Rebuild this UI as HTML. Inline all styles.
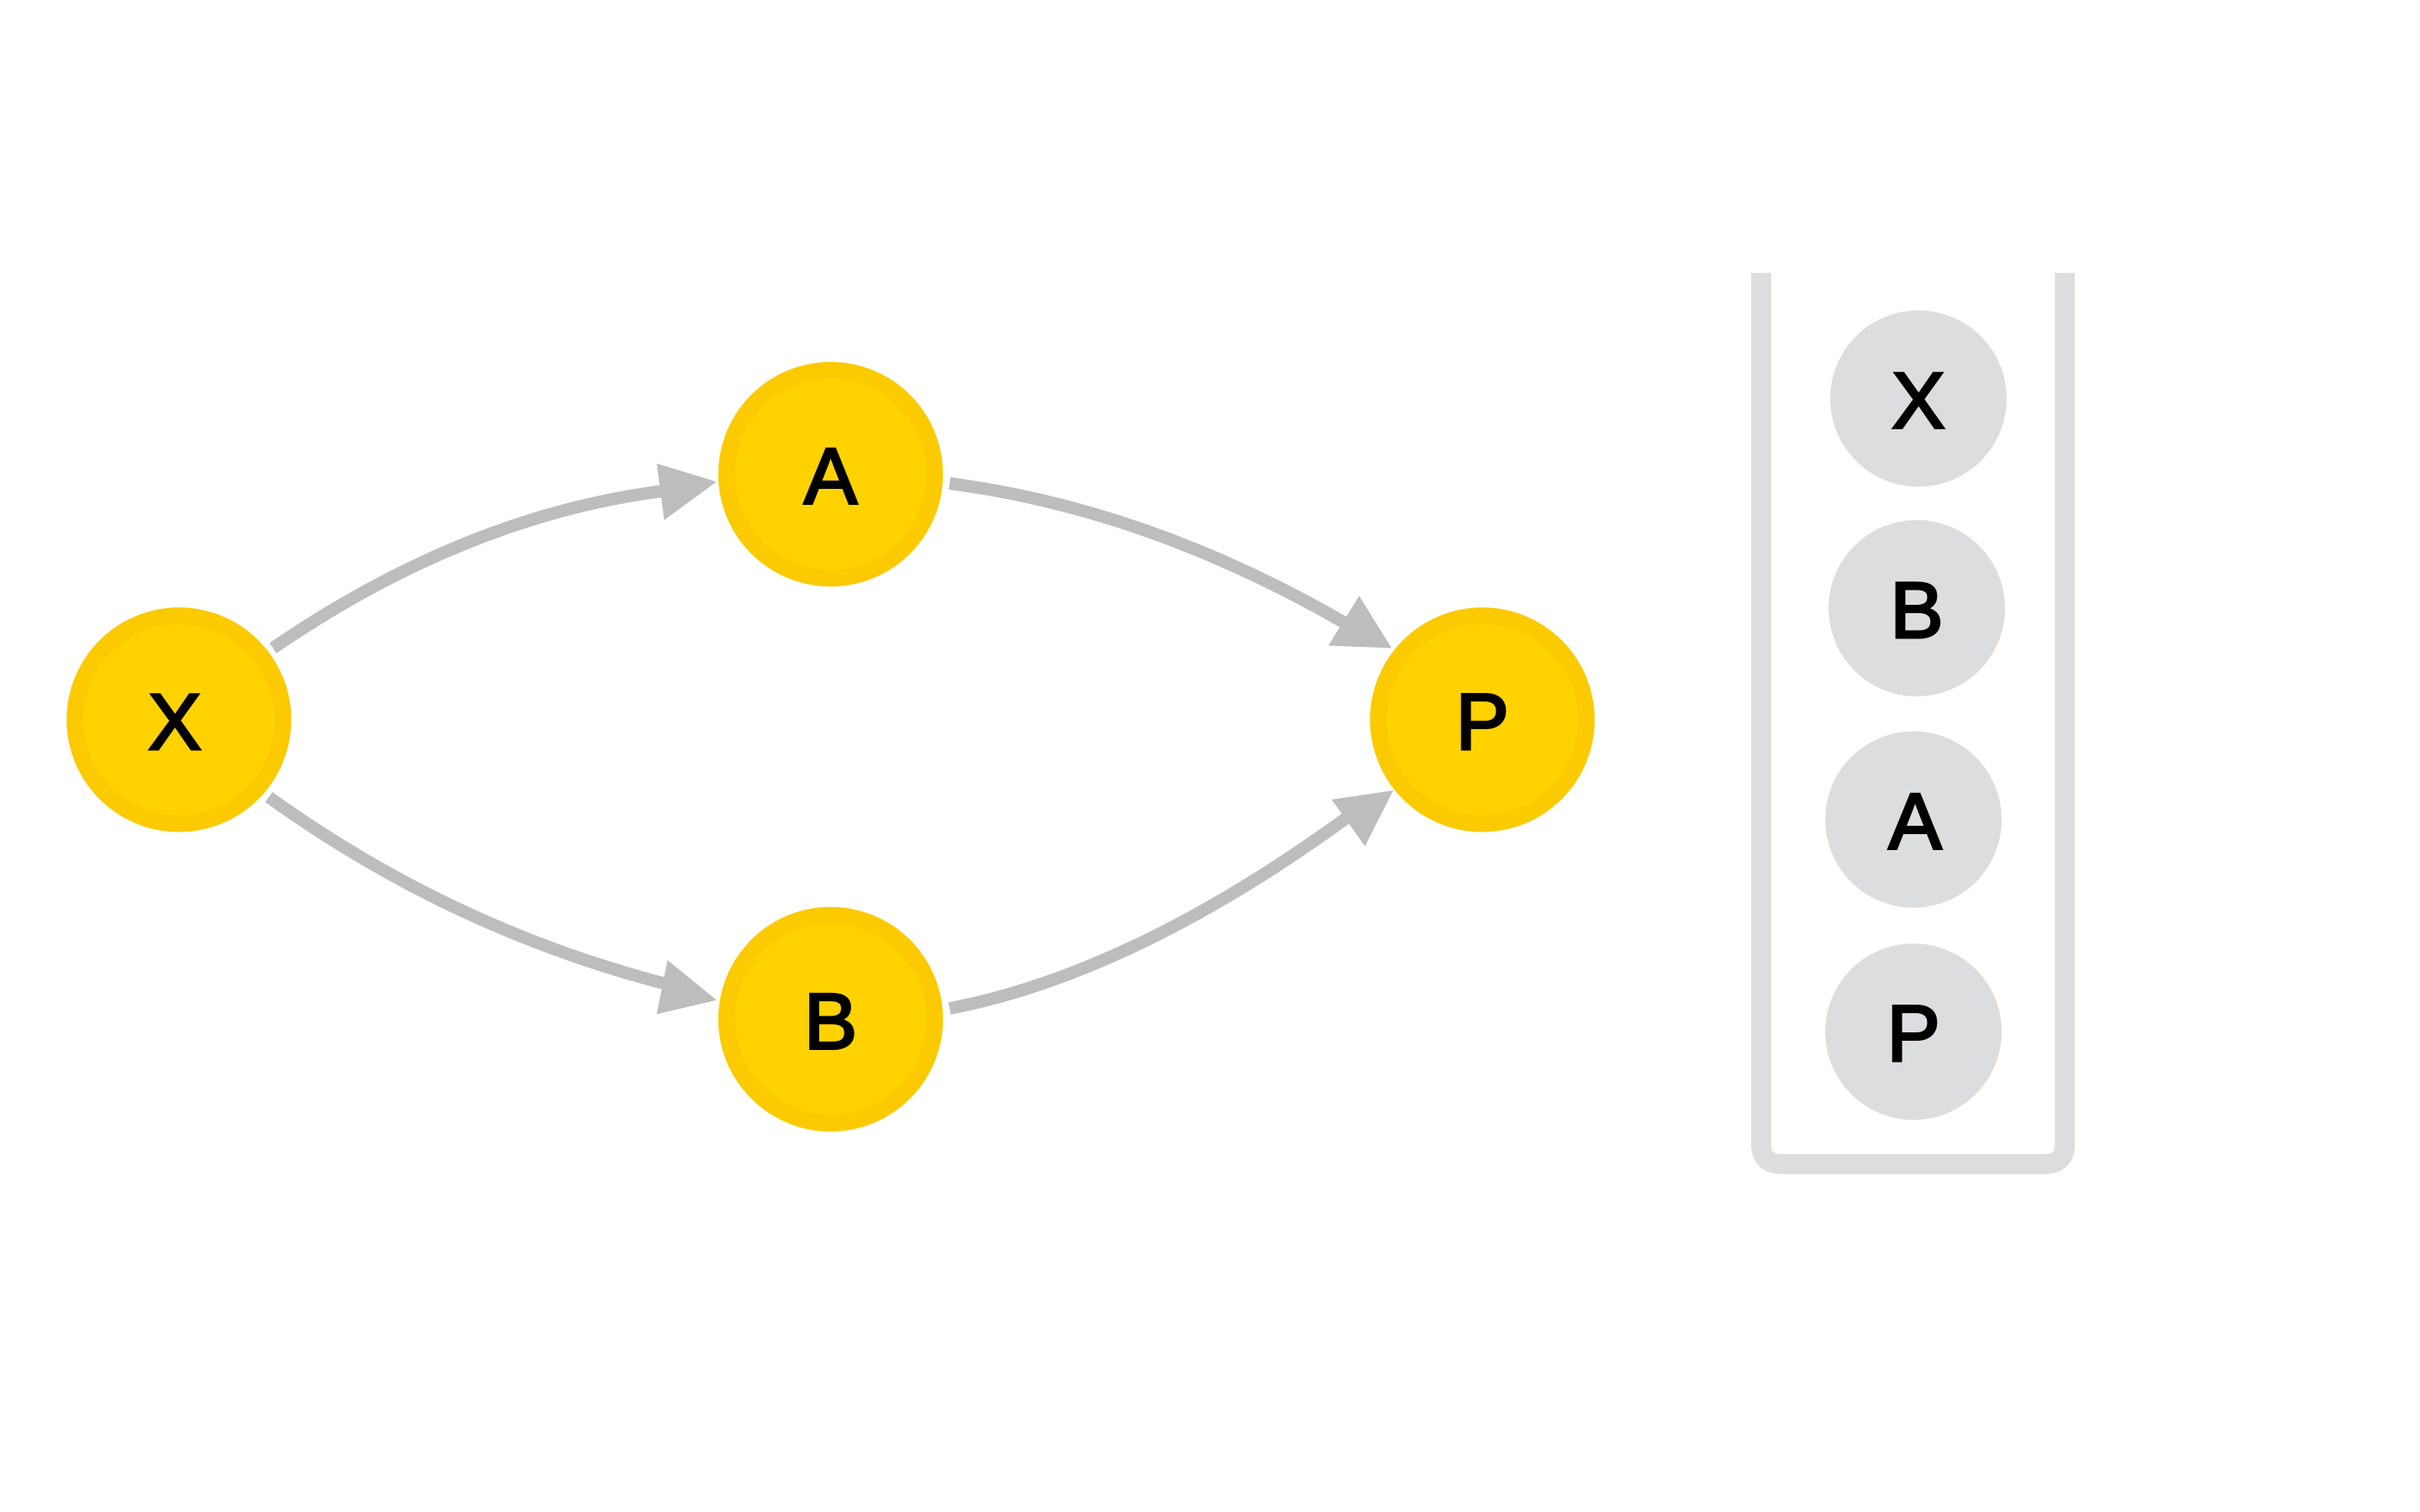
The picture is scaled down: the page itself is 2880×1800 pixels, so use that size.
<!DOCTYPE html>
<html><head><meta charset="utf-8"><style>
html,body{margin:0;padding:0;background:#fff;width:2880px;height:1800px;overflow:hidden}
text{font-family:"Liberation Sans","DejaVu Sans",sans-serif;font-size:96px;fill:#000;stroke:#000;stroke-width:3;text-anchor:middle;dominant-baseline:central}
</style></head><body>
<svg width="2880" height="1800" viewBox="0 0 2880 1800" xmlns="http://www.w3.org/2000/svg">
<g transform="scale(0.9905)">
<g fill="none" stroke="#BDBDBD" stroke-width="15">
<path d="M328,779 Q560,620 798,590"/>
<path d="M1141,581 Q1380,612 1618,750"/>
<path d="M323,958 Q541,1115 798,1182"/>
<path d="M1141,1212 Q1360,1170 1618,983"/>
</g>
<g fill="#BDBDBD">
<polygon points="861,579 789,557 798,625"/>
<polygon points="1672,779 1633,716 1596,776"/>
<polygon points="861,1202 802,1154 789,1219"/>
<polygon points="1674,950 1600,961 1640,1017"/>
</g>
<g fill="#FFD200" stroke="#FBCA00" stroke-width="20">
<circle cx="215" cy="865" r="125"/>
<circle cx="998" cy="570" r="125"/>
<circle cx="998" cy="1225" r="125"/>
<circle cx="1781" cy="865" r="125"/>
</g>
<text x="210" y="868">X</text>
<text x="998" y="573">A</text>
<text x="998" y="1228">B</text>
<text x="1781" y="868">P</text>
<path d="M2116,328 V1375 Q2116,1399 2140,1399 H2457 Q2481,1399 2481,1375 V328" fill="none" stroke="#DDDDE0" stroke-width="24"/>
<g fill="#DCDDDF">
<circle cx="2305" cy="479" r="106"/>
<circle cx="2303" cy="731" r="106"/>
<circle cx="2299" cy="985" r="106"/>
<circle cx="2299" cy="1240" r="106"/>
</g>
<text x="2305" y="482">X</text>
<text x="2303" y="734">B</text>
<text x="2301" y="988">A</text>
<text x="2299" y="1243">P</text>
</g>
</svg>
</body></html>
